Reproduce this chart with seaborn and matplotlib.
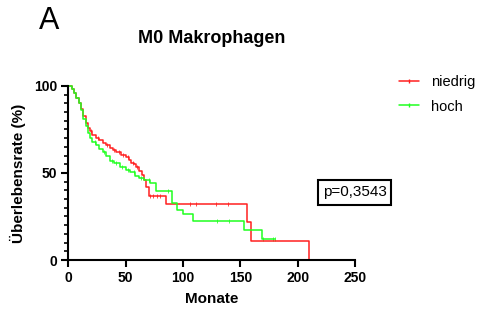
import numpy as np
import pandas as pd
import matplotlib.pyplot as plt
import seaborn as sns
from matplotlib.lines import Line2D

# Kaplan-Meier step points (months, survival %)
niedrig_t = [0, 3, 5, 7, 9, 11, 13, 15, 17, 19, 21, 24, 27, 30, 33, 36, 39, 42, 46, 50,
             53, 55, 57, 59, 62, 64, 66, 68, 70, 85, 156, 159, 210]
niedrig_s = [100, 98, 96, 93, 90, 87, 83, 79, 76, 74, 72, 70, 69, 67.5, 66, 64.5, 63, 62, 60.5, 59,
             57.5, 56, 55, 53.5, 51, 49, 46, 42, 36.6, 32.4, 22, 11, 0]
hoch_t = [0, 3, 5, 7, 9, 11, 13, 15, 17, 19, 21, 24, 27, 30, 33, 36, 40, 45, 50, 54,
          58, 62, 66, 71, 76.5, 90, 95, 100, 109, 153, 169, 180]
hoch_s = [100, 98, 96, 93, 90, 86, 81, 77, 73, 70, 68, 66, 64, 62, 60, 57, 55.5, 53.6, 52, 50.5,
          48, 47, 46, 44, 39.8, 32.6, 29, 26.4, 22.4, 17.2, 11.9, 11.9]

# censored observations (months)
niedrig_cens = [20, 26, 34, 40, 44, 48, 52, 56, 60, 71, 74, 77, 80, 106, 111, 129, 139.5]
hoch_cens = [23, 31, 38, 42, 47, 52, 57, 63, 70, 87, 130, 140, 170, 178.7, 180]

gruppen = ["niedrig", "hoch"]
farben = ["#ff1f1f", "#1fff1f"]
p_text = "p=0,3543"

sns.set_style("ticks")
plt.rcParams["font.family"] = ["Liberation Sans", "DejaVu Sans"]
plt.rcParams["text.color"] = "black"
plt.rcParams["axes.labelcolor"] = "black"
plt.rcParams["xtick.color"] = "black"
plt.rcParams["ytick.color"] = "black"
plt.rcParams["axes.edgecolor"] = "black"

def surv_at(t, s, x):
    idx = np.searchsorted(t, x, side="right") - 1
    return np.array(s)[idx]

fig = plt.figure(figsize=(4.81, 3.15), dpi=100)
ax = fig.add_axes([0.142, 0.1746, 0.596, 0.5524])

daten = [(niedrig_t, niedrig_s, niedrig_cens), (hoch_t, hoch_s, hoch_cens)]
for (t, s, c), name, col in zip(daten, gruppen, farben):
    df = pd.DataFrame({"Monate": t, "Rate": s})
    sns.lineplot(data=df, x="Monate", y="Rate", drawstyle="steps-post", color=col,
                 linewidth=1.1, ax=ax, clip_on=False, estimator=None)
    cdf = pd.DataFrame({"Monate": c, "Rate": surv_at(t, s, c)})
    sns.scatterplot(data=cdf, x="Monate", y="Rate", marker="|", s=12, color=col,
                    linewidth=0.7, alpha=0.8, ax=ax, clip_on=False)

ax.set_xlim(0, 250)
ax.set_ylim(0, 100)
ax.set_xticks([0, 50, 100, 150, 200, 250])
ax.set_yticks([0, 50, 100])
ax.set_yticks(np.arange(0, 101, 5), minor=True)
for sp in ["top", "right"]:
    ax.spines[sp].set_visible(False)
for sp in ["left", "bottom"]:
    ax.spines[sp].set_linewidth(1.5)
ax.tick_params(axis="both", which="major", width=1.5, length=5, labelsize=10, pad=3)
ax.tick_params(axis="y", which="minor", width=1.2, length=3)
ax.tick_params(axis="x", which="minor", length=0)
for lab in ax.get_xticklabels() + ax.get_yticklabels():
    lab.set_fontweight("bold")

ax.set_xlabel("Monate", fontsize=11, fontweight="bold", labelpad=5)
ax.set_ylabel("Überlebensrate (%)", fontsize=11, fontweight="bold", labelpad=6)
fig.text(0.4397, 0.863, "M0 Makrophagen", fontsize=13, fontweight="bold",
         ha="center", va="baseline")

fig.text(0.0817, 0.907, "A", fontsize=22, va="baseline")

handles = [Line2D([0], [0], color=col, linewidth=1.1, marker="|", markersize=3)
           for col in farben]
fig.legend(handles, gruppen, loc="upper left", bbox_to_anchor=(0.829, 0.763),
           frameon=False, fontsize=10.5, handlelength=1.4, handletextpad=0.8,
           labelspacing=0.75, borderpad=0, borderaxespad=0)

fig.text(0.737, 0.389, p_text, fontsize=11, ha="center", va="center",
         bbox=dict(boxstyle="square,pad=0.33", facecolor="white", edgecolor="black", linewidth=1.5))

plt.savefig("out.png", dpi=100)
